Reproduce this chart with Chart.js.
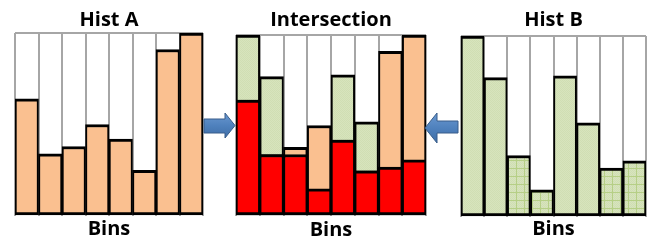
<!DOCTYPE html>
<html>
<head>
<meta charset="utf-8">
<script src="https://cdn.jsdelivr.net/npm/chart.js@4.4.1/dist/chart.umd.min.js"></script>
<style>
  html, body { margin: 0; padding: 0; background: #fff; }
  #wrap { position: relative; width: 655px; height: 241px; overflow: hidden; }
  canvas, svg { position: absolute; top: 0; }
</style>
</head>
<body>
<div id="wrap">
  <canvas id="histA" width="218" height="241" style="left:0"></canvas>
  <canvas id="histI" width="222" height="241" style="left:220px"></canvas>
  <canvas id="histB" width="211" height="241" style="left:444px"></canvas>
  <svg width="655" height="241" style="left:0">
    <defs>
      <linearGradient id="arrowFill" x1="0" y1="0" x2="0" y2="1">
        <stop offset="0" stop-color="#6A98D0"/>
        <stop offset="0.5" stop-color="#4F81BD"/>
        <stop offset="1" stop-color="#3E6DA6"/>
      </linearGradient>
    </defs>
    <path d="M204,119 L225,119 L225,113 L235,125.5 L225,138 L225,133 L204,133 Z" fill="url(#arrowFill)" stroke="#385D8A" stroke-width="1"/>
    <path d="M458,121 L437,121 L437,113 L425,128 L437,143 L437,133 L458,133 Z" fill="url(#arrowFill)" stroke="#385D8A" stroke-width="1"/>
  </svg>
</div>
<script>
const bins = ['1', '2', '3', '4', '5', '6', '7', '8'];
const histA = [64, 34, 38, 50, 42, 25, 91, 100];
const histB = [100, 77, 34, 15, 78, 52, 27, 31];
const yMax = 100;

// intersection = smaller of the two per bin
const intersection = histA.map((a, i) => Math.min(a, histB[i]));

const fontFamily = "'Open Sans', Lato, sans-serif";
const peach = '#FAC090';
const red = '#FF0000';

function greenPattern(canvasId, grid) {
    const c = document.createElement('canvas');
    c.width = 8;
    c.height = 8;
    const g = c.getContext('2d');
    g.fillStyle = '#D7E4BD';
    g.fillRect(0, 0, 8, 8);
    g.fillStyle = '#D0DEB3';
    for (let y = 0; y < 8; y++) {
        for (let x = 0; x < 8; x++) {
            if ((x + y) % 2 === 0) g.fillRect(x, y, 1, 1);
        }
    }
    if (grid) {
        g.fillStyle = '#B6CF86';
        g.fillRect(0, 0, 8, 1);
        g.fillRect(0, 0, 1, 8);
    }
    return document.getElementById(canvasId).getContext('2d').createPattern(c, 'repeat');
}

function barSet(data, color) {
    return {
        data: data,
        backgroundColor: color,
        borderColor: '#000',
        borderWidth: {top: 3, bottom: 3, left: 2, right: 2},
        borderSkipped: false,
        barPercentage: 1,
        categoryPercentage: 1,
        grouped: false,
    };
}

function panelOptions(title, pad) {
    return {
        responsive: false,
        animation: false,
        events: [],
        layout: {
            padding: {left: pad.left, right: pad.right, top: 0, bottom: pad.bottom}
        },
        plugins: {
            legend: {display: false},
            tooltip: {enabled: false},
            title: {
                display: true,
                text: title,
                color: '#000',
                font: {family: fontFamily, size: 20, weight: 'bold', lineHeight: 1},
                padding: {top: 10, bottom: pad.titleGap}
            }
        },
        scales: {
            x: {
                grid: {color: '#A6A6A6', lineWidth: 2, drawTicks: false},
                border: {display: false},
                ticks: {display: false},
                title: {
                    display: true,
                    text: 'Bins',
                    color: '#000',
                    font: {family: fontFamily, size: 20, weight: 'bold', lineHeight: 1},
                    padding: {top: pad.binsGap, bottom: 0}
                }
            },
            y: {
                min: 0,
                max: yMax,
                ticks: {display: false, stepSize: yMax},
                border: {display: false},
                grid: {
                    drawTicks: false,
                    lineWidth: 2,
                    color: (c) => (c.tick && c.tick.value === yMax ? '#A6A6A6' : 'rgba(0,0,0,0)')
                }
            }
        }
    };
}

const plainGreen = greenPattern('histI', false);
const plainGreenB = greenPattern('histB', false);
const gridGreenB = greenPattern('histB', true);

new Chart(document.getElementById('histA'), {
    type: 'bar',
    data: {labels: bins, datasets: [barSet(histA, peach)]},
    options: panelOptions('Hist A', {left: 15, right: 15, bottom: 2, titleGap: 3, binsGap: 3})
});

// red on top (dataset 0 is drawn last), the taller of A/B shows behind it
new Chart(document.getElementById('histI'), {
    type: 'bar',
    data: {
        labels: bins,
        datasets: [
            barSet(intersection, red),
            barSet(histA, peach),
            barSet(histB, plainGreen)
        ]
    },
    options: panelOptions('Intersection', {left: 16, right: 16, bottom: 1, titleGap: 5, binsGap: 4})
});

// bins where B is below A get the grid fill
new Chart(document.getElementById('histB'), {
    type: 'bar',
    data: {
        labels: bins,
        datasets: [barSet(histB, histB.map((b, i) => (b < histA[i] ? gridGreenB : plainGreenB)))]
    },
    options: panelOptions('Hist B', {left: 17, right: 9, bottom: 1.5, titleGap: 6, binsGap: 2.5})
});
</script>
</body>
</html>
